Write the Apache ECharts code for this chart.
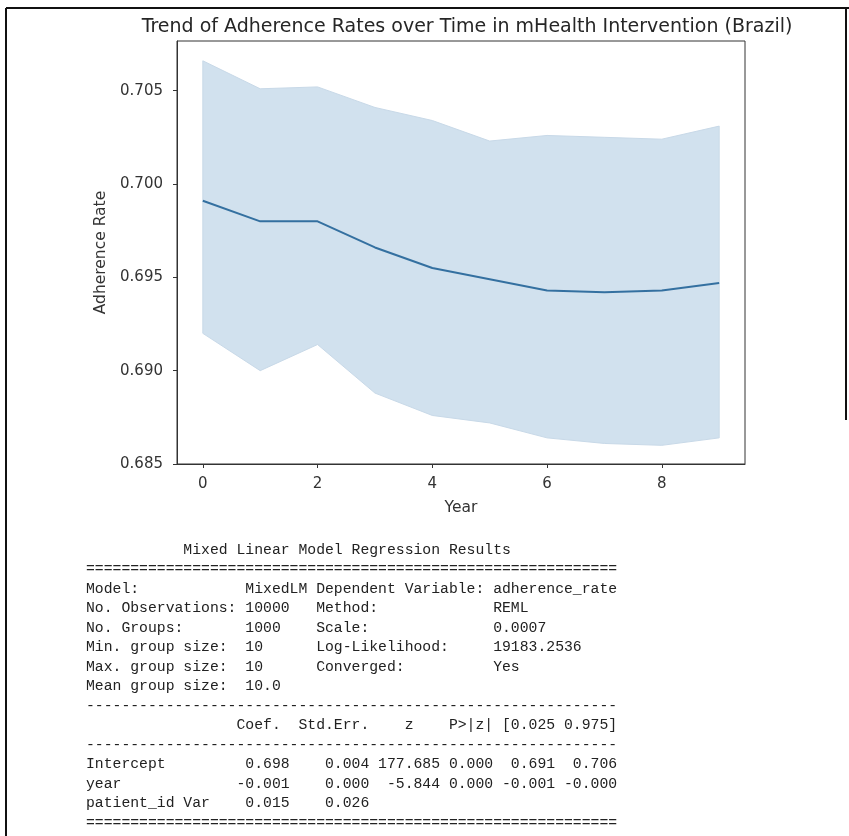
<!DOCTYPE html>
<html>
<head>
<meta charset="utf-8">
<script src="https://cdn.jsdelivr.net/npm/echarts@6/dist/echarts.min.js"></script>
<style>
html,body{margin:0;padding:0;background:#fff;}
#chart{width:849px;height:836px;}
</style>
</head>
<body>
<div id="chart"></div>
<script>
// ---- data ----
const years = [0, 1, 2, 3, 4, 5, 6, 7, 8, 9];
const meanRate = [0.6991, 0.6980, 0.6980, 0.6966, 0.6955, 0.6949, 0.6943, 0.6942, 0.6943, 0.6947];
const upperCI = [0.7066, 0.7051, 0.7052, 0.7041, 0.7034, 0.7023, 0.7026, 0.7025, 0.7024, 0.7031];
const lowerCI = [0.6920, 0.6900, 0.6914, 0.6888, 0.6876, 0.6872, 0.6864, 0.6861, 0.6860, 0.6864];
const xTicks = [0, 2, 4, 6, 8];
const yTicks = [0.685, 0.690, 0.695, 0.700, 0.705];

const titleText = 'Trend of Adherence Rates over Time in mHealth Intervention (Brazil)';
const xName = 'Year';
const yName = 'Adherence Rate';

const summaryLines = [
  '           Mixed Linear Model Regression Results',
  '='.repeat(60),
  'Model:            MixedLM Dependent Variable: adherence_rate',
  'No. Observations: 10000   Method:             REML',
  'No. Groups:       1000    Scale:              0.0007',
  'Min. group size:  10      Log-Likelihood:     19183.2536',
  'Max. group size:  10      Converged:          Yes',
  'Mean group size:  10.0',
  '-'.repeat(60),
  '                 Coef.  Std.Err.    z    P>|z| [0.025 0.975]',
  '-'.repeat(60),
  'Intercept         0.698    0.004 177.685 0.000  0.691  0.706',
  'year             -0.001    0.000  -5.844 0.000 -0.001 -0.000',
  'patient_id Var    0.015    0.026',
  '='.repeat(60)
];

// ---- chart ----
const chart = echarts.init(document.getElementById('chart'), null, {renderer: 'canvas'});
const axisColor = '#333333';
const sansFont = 'DejaVu Sans';

const textGraphics = summaryLines.map((line, i) => ({
  type: 'text',
  x: 86,
  y: 550 + i * 19.48,
  silent: true,
  style: {
    text: line,
    font: '14.75px "Liberation Mono", "DejaVu Sans Mono", monospace',
    fill: '#222222',
    verticalAlign: 'middle',
    align: 'left'
  }
}));

const option = {
  backgroundColor: '#ffffff',
  animation: false,
  title: {
    text: titleText,
    left: 462,
    textAlign: 'center',
    top: 13,
    textStyle: {fontSize: 19, fontWeight: 'normal', fontFamily: sansFont, color: '#262626'}
  },
  grid: {
    left: 177, right: 104, top: 41, bottom: 372,
    show: true, borderColor: axisColor, borderWidth: 1, backgroundColor: 'transparent'
  },
  xAxis: {
    type: 'value',
    min: -0.45,
    max: 9.45,
    name: xName,
    nameLocation: 'middle',
    nameGap: 36,
    nameTextStyle: {fontSize: 15.5, fontFamily: sansFont, color: '#333'},
    axisLine: {show: true, onZero: false, lineStyle: {color: axisColor, width: 1}},
    axisTick: {show: true, length: 4, lineStyle: {color: axisColor}, customValues: xTicks},
    axisLabel: {customValues: xTicks, fontSize: 15, fontFamily: sansFont, color: '#333', margin: 13},
    splitLine: {show: false}
  },
  yAxis: {
    type: 'value',
    min: 0.685,
    max: 0.70766,
    name: yName,
    nameLocation: 'middle',
    nameGap: 66,
    nameRotate: 90,
    nameTextStyle: {fontSize: 15.5, fontFamily: sansFont, color: '#333'},
    axisLine: {show: true, onZero: false, lineStyle: {color: axisColor, width: 1}},
    axisTick: {show: true, length: 4, lineStyle: {color: axisColor}, customValues: yTicks},
    axisLabel: {
      customValues: yTicks, fontSize: 15, fontFamily: sansFont, color: '#333', margin: 14,
      formatter: v => v.toFixed(3)
    },
    splitLine: {show: false}
  },
  series: [
    {
      type: 'custom',
      silent: true,
      z: 1,
      data: years.map((y, i) => [y, upperCI[i], lowerCI[i]]),
      encode: {x: 0, y: [1, 2]},
      renderItem: function (params, api) {
        if (params.dataIndex !== 0) return null;
        const pts = [];
        for (let i = 0; i < years.length; i++) pts.push(api.coord([years[i], upperCI[i]]));
        for (let i = years.length - 1; i >= 0; i--) pts.push(api.coord([years[i], lowerCI[i]]));
        return {
          type: 'polygon',
          shape: {points: pts},
          style: {fill: '#d1e1ee', stroke: '#c8d9e8', lineWidth: 1}
        };
      }
    },
    {
      type: 'line',
      z: 2,
      data: years.map((y, i) => [y, meanRate[i]]),
      showSymbol: false,
      lineStyle: {color: '#3470a0', width: 2},
      silent: true
    }
  ],
  graphic: [
    {type: 'line', silent: true, shape: {x1: 6, y1: 8, x2: 849, y2: 8}, style: {stroke: '#111', lineWidth: 2}},
    {type: 'line', silent: true, shape: {x1: 6, y1: 8, x2: 6, y2: 836}, style: {stroke: '#111', lineWidth: 2}},
    {type: 'line', silent: true, shape: {x1: 846, y1: 8, x2: 846, y2: 420}, style: {stroke: '#111', lineWidth: 2}}
  ].concat(textGraphics)
};
chart.setOption(option);
</script>
</body>
</html>
